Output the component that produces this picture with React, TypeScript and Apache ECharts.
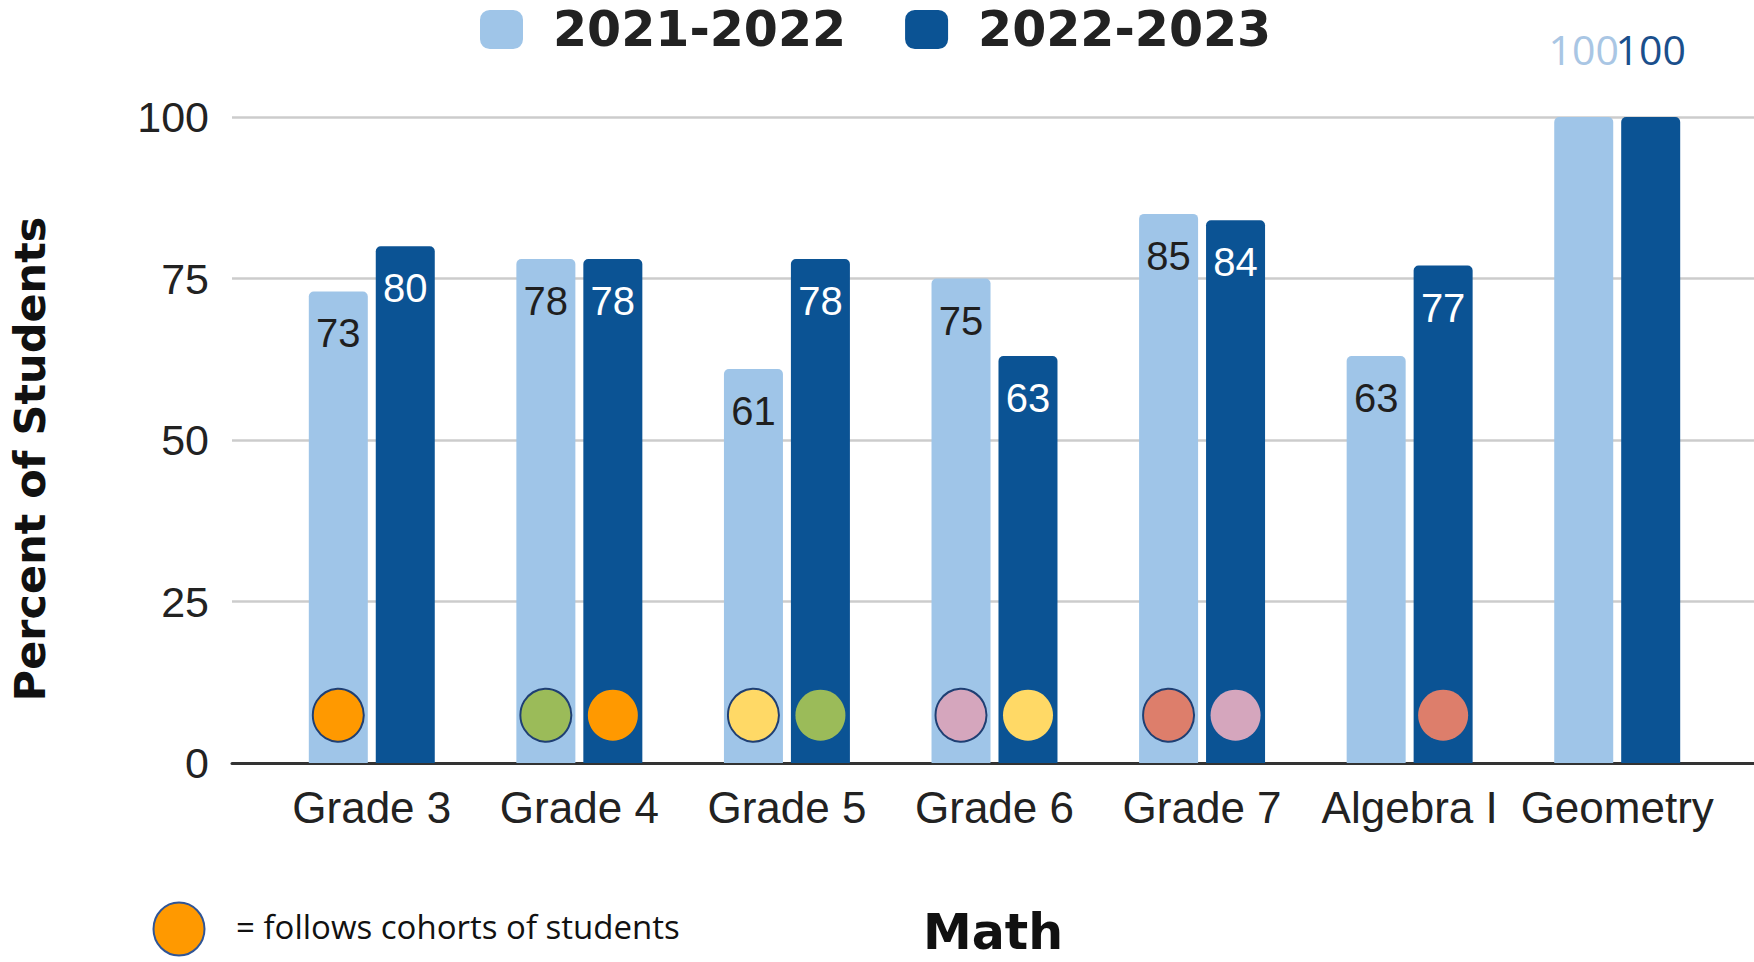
import React, { useEffect, useRef } from "react";
import * as echarts from "echarts";

const categories = ["Grade 3", "Grade 4", "Grade 5", "Grade 6", "Grade 7", "Algebra I", "Geometry"];
const values2122 = [73, 78, 61, 75, 85, 63, 100];
const values2223 = [80, 78, 78, 63, 84, 77, 100];
const yTicks = [0, 25, 50, 75, 100];
// cohort marker colours (null = no marker)
const cohort2122 = ["#ff9900", "#9bbb59", "#ffd966", "#d5a6bd", "#dd7e6b", null, null];
const cohort2223 = [null, "#ff9900", "#9bbb59", "#ffd966", "#d5a6bd", "#dd7e6b", null];
const markerLevel = 7.4;
const seriesNames = ["2021-2022", "2022-2023"];
const LIGHT = "#9fc5e8";
const DARK = "#0b5394";

export default function App() {
  const ref = useRef<HTMLDivElement>(null);
  useEffect(() => {
    if (!ref.current) return;
    const chart = echarts.init(ref.current, undefined, { renderer: "svg" });
    const labelFont = "'Liberation Sans', Arial, sans-serif";
    const boldFont = "'DejaVu Sans', Verdana, sans-serif";
    const mkBarData = (vals: number[], color: string) =>
      vals.map((v, i) =>
        i === vals.length - 1
          ? {
              value: v,
              label: {
                position: "top",
                distance: 48,
                color: color === LIGHT ? "#a9c6e4" : "#1a4f8c",
                fontFamily: "'Open Sans', sans-serif",
                fontSize: 41,
              },
            }
          : { value: v }
      );
    const mkMarkers = (cols: (string | null)[], border: boolean) =>
      cols
        .map((c, i) =>
          c
            ? {
                value: [i, markerLevel],
                itemStyle: {
                  color: c,
                  opacity: 1,
                  borderColor: border ? "#1f3f73" : c,
                  borderWidth: border ? 2 : 0,
                },
              }
            : null
        )
        .filter((d) => d !== null);

    const option: any = {
      animation: false,
      backgroundColor: "#ffffff",
      legend: {
        data: seriesNames,
        left: 475,
        top: 0,
        itemWidth: 43,
        itemHeight: 39,
        itemGap: 59,
        icon: "roundRect",
        textStyle: {
          fontFamily: boldFont,
          fontWeight: "bold",
          fontSize: 49,
          color: "#222222",
          padding: [0, 0, 0, 25],
        },
      },
      grid: [
        { left: 268, right: 33, top: 117, bottom: 199, outerBoundsMode: "none", containLabel: false },
        { left: 232, right: 0, top: 117, bottom: 199, outerBoundsMode: "none", containLabel: false },
      ],
      xAxis: [
        {
          type: "category",
          gridIndex: 0,
          data: categories,
          axisLine: { show: false },
          axisTick: { show: false },
          axisLabel: { interval: 0, fontFamily: labelFont, fontSize: 44, color: "#222222", margin: 22 },
        },
        {
          type: "value",
          gridIndex: 1,
          min: 0,
          max: 1,
          axisLine: { show: true, lineStyle: { color: "#333333", width: 3 } },
          axisTick: { show: false },
          axisLabel: { show: false },
          splitLine: { show: false },
          name: "Math",
          nameLocation: "middle",
          nameGap: 148,
          nameTextStyle: {
            fontFamily: boldFont,
            fontWeight: "bold",
            fontSize: 49,
            lineHeight: 42,
            color: "#111111",
          },
        },
      ],
      yAxis: [
        {
          type: "value",
          gridIndex: 0,
          min: 0,
          max: 100,
          show: false,
          splitLine: { show: false },
        },
        {
          type: "value",
          gridIndex: 1,
          min: yTicks[0],
          max: yTicks[yTicks.length - 1],
          interval: yTicks[1] - yTicks[0],
          axisLine: { show: false },
          axisTick: { show: false },
          axisLabel: { fontFamily: labelFont, fontSize: 43, color: "#222222", margin: 23 },
          splitLine: { lineStyle: { color: "#cccccc", width: 2.5 } },
          name: "Percent of Students",
          nameLocation: "middle",
          nameRotate: 90,
          nameGap: 181,
          nameTextStyle: {
            fontFamily: boldFont,
            fontWeight: "bold",
            fontSize: 43,
            color: "#111111",
            padding: [0, 38, 0, 0],
          },
        },
      ],
      series: [
        {
          name: seriesNames[0],
          type: "bar",
          xAxisIndex: 0,
          yAxisIndex: 0,
          barWidth: 59,
          barGap: "13.5%",
          itemStyle: { color: LIGHT, borderRadius: [5, 5, 0, 0] },
          label: {
            show: true,
            position: "insideTop",
            distance: 22,
            fontFamily: labelFont,
            fontSize: 40,
            color: "#1f1f1f",
          },
          data: mkBarData(values2122, LIGHT),
        },
        {
          name: seriesNames[1],
          type: "bar",
          xAxisIndex: 0,
          yAxisIndex: 0,
          barWidth: 59,
          barGap: "13.5%",
          itemStyle: { color: DARK, borderRadius: [5, 5, 0, 0] },
          label: {
            show: true,
            position: "insideTop",
            distance: 22,
            fontFamily: labelFont,
            fontSize: 40,
            color: "#ffffff",
          },
          data: mkBarData(values2223, DARK),
        },
        {
          type: "scatter",
          xAxisIndex: 0,
          yAxisIndex: 0,
          symbol: "circle",
          symbolSize: [51, 53],
          symbolOffset: [-33.5, 0],
          z: 5,
          data: mkMarkers(cohort2122, true),
        },
        {
          type: "scatter",
          xAxisIndex: 0,
          yAxisIndex: 0,
          symbol: "circle",
          symbolSize: [50, 51],
          symbolOffset: [33.5, 0],
          z: 5,
          data: mkMarkers(cohort2223, false),
        },
      ],
      graphic: [
        {
          type: "ellipse",
          shape: { cx: 179, cy: 929, rx: 25.5, ry: 26.5 },
          style: { fill: "#ff9900", stroke: "#2f5597", lineWidth: 2 },
        },
        {
          type: "text",
          x: 236,
          y: 926,
          style: {
            text: "= follows cohorts of students",
            fontFamily: "'Open Sans', sans-serif",
            fontSize: 33,
            fill: "#111111",
            verticalAlign: "middle",
          },
        },
      ],
    };
    chart.setOption(option);
    return () => chart.dispose();
  }, []);
  return (
    <div
      ref={ref}
      style={{ position: "fixed", left: 0, top: 0, width: 1754, height: 962 }}
    />
  );
}
